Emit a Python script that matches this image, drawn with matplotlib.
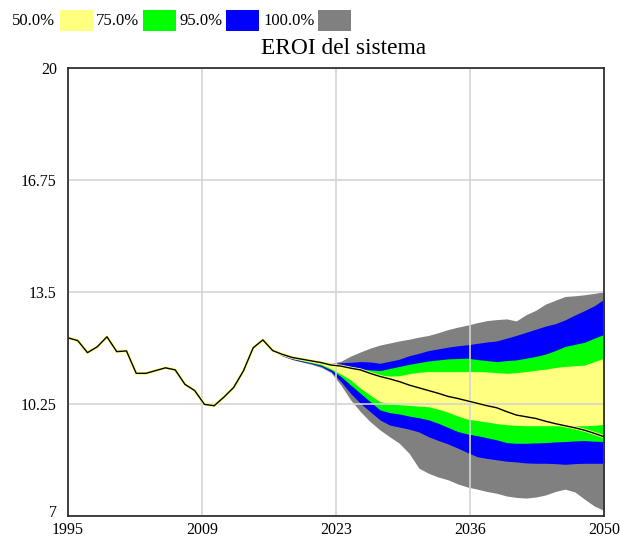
import numpy as np
import matplotlib
matplotlib.use("Agg")
from matplotlib import pyplot as plt
from matplotlib.patches import Rectangle
from matplotlib.transforms import ScaledTranslation

plt.rcParams['font.family'] = ['Liberation Serif', 'DejaVu Serif']

# EROI median run, 1995-2050
years = np.arange(1995, 2051)
eroi = [12.17, 12.09, 11.74, 11.91, 12.20, 11.77, 11.79, 11.14, 11.14, 11.22,
        11.30, 11.24, 10.82, 10.64, 10.24, 10.20, 10.45, 10.73, 11.21, 11.88,
        12.11, 11.80, 11.69, 11.60, 11.55, 11.50, 11.45, 11.38, 11.35, 11.29,
        11.24, 11.14, 11.05, 10.98, 10.90, 10.80, 10.72, 10.64, 10.56, 10.47,
        10.41, 10.34, 10.27, 10.20, 10.14, 10.03, 9.93, 9.88, 9.83, 9.75,
        9.68, 9.62, 9.56, 9.49, 9.40, 9.30]

# sensitivity bands, 2016-2050
band_years = np.arange(2016, 2051)
gray_hi = [11.80, 11.69, 11.60, 11.55, 11.51, 11.48, 11.43, 11.49, 11.64, 11.76,
           11.87, 11.96, 12.02, 12.08, 12.13, 12.19, 12.24, 12.32, 12.41, 12.48,
           12.54, 12.61, 12.67, 12.70, 12.72, 12.66, 12.84, 12.97, 13.15, 13.26,
           13.37, 13.39, 13.42, 13.46, 13.51]
blue_hi = [11.80, 11.69, 11.60, 11.55, 11.50, 11.46, 11.41, 11.45, 11.46, 11.48,
           11.47, 11.43, 11.49, 11.55, 11.65, 11.72, 11.80, 11.85, 11.90, 11.94,
           11.97, 12.01, 12.05, 12.08, 12.16, 12.24, 12.33, 12.42, 12.51, 12.58,
           12.69, 12.83, 12.96, 13.10, 13.29]
green_hi = [11.80, 11.69, 11.60, 11.55, 11.50, 11.45, 11.39, 11.37, 11.32, 11.27,
            11.24, 11.22, 11.28, 11.34, 11.40, 11.45, 11.50, 11.53, 11.56, 11.57,
            11.58, 11.54, 11.51, 11.48, 11.51, 11.53, 11.58, 11.63, 11.70, 11.80,
            11.92, 11.98, 12.04, 12.16, 12.27]
yellow_hi = [11.80, 11.69, 11.60, 11.55, 11.50, 11.45, 11.38, 11.35, 11.28, 11.22,
             11.14, 11.09, 11.06, 11.07, 11.13, 11.17, 11.19, 11.19, 11.19, 11.19,
             11.19, 11.19, 11.18, 11.16, 11.14, 11.16, 11.19, 11.23, 11.26, 11.31,
             11.34, 11.36, 11.38, 11.48, 11.58]
yellow_lo = [11.80, 11.68, 11.58, 11.52, 11.46, 11.40, 11.27, 11.12, 10.95, 10.71,
             10.51, 10.32, 10.26, 10.23, 10.21, 10.19, 10.17, 10.10, 10.01, 9.90,
             9.81, 9.77, 9.73, 9.68, 9.65, 9.63, 9.62, 9.62, 9.62, 9.62,
             9.62, 9.62, 9.62, 9.63, 9.66]
green_lo = [11.80, 11.67, 11.57, 11.50, 11.44, 11.37, 11.24, 11.05, 10.80, 10.56,
            10.32, 10.08, 10.00, 9.96, 9.90, 9.85, 9.79, 9.69, 9.57, 9.45,
            9.38, 9.33, 9.27, 9.21, 9.13, 9.11, 9.11, 9.12, 9.13, 9.15,
            9.16, 9.18, 9.19, 9.17, 9.16]
blue_lo = [11.80, 11.65, 11.55, 11.48, 11.42, 11.34, 11.19, 10.90, 10.56, 10.27,
           10.03, 9.79, 9.64, 9.58, 9.52, 9.44, 9.30, 9.19, 9.09, 8.97,
           8.84, 8.72, 8.67, 8.63, 8.59, 8.57, 8.54, 8.53, 8.53, 8.52,
           8.50, 8.52, 8.53, 8.53, 8.53]
gray_lo = [11.80, 11.64, 11.54, 11.47, 11.40, 11.31, 11.16, 10.80, 10.37, 10.03,
           9.74, 9.50, 9.30, 9.11, 8.82, 8.39, 8.24, 8.13, 8.05, 7.93,
           7.84, 7.78, 7.71, 7.66, 7.58, 7.54, 7.52, 7.55, 7.61, 7.71,
           7.78, 7.70, 7.49, 7.29, 7.16]

labels = ['50.0%', '75.0%', '95.0%', '100.0%']
colors = ['#ffff80', '#00ff00', '#0000ff', '#808080']

xtick_pos = [1995, 2008.75, 2022.5, 2036.25, 2050]
xtick_lab = ['1995', '2009', '2023', '2036', '2050']
ytick_pos = [7, 10.25, 13.5, 16.75, 20]
ytick_lab = ['7', '10.25', '13.5', '16.75', '20']

fig = plt.figure(figsize=(6.2, 5.4), dpi=100)
ax = fig.add_axes([68 / 620, 24 / 540, 536 / 620, 448 / 540])

# widest band first so the narrower ones sit on top
bands = [(gray_lo, gray_hi, colors[3]), (blue_lo, blue_hi, colors[2]),
         (green_lo, green_hi, colors[1]), (yellow_lo, yellow_hi, colors[0])]
for lo, hi, c in bands:
    ax.fill_between(band_years, lo, hi, color=c, lw=0, zorder=1)

ax.plot(years, eroi, color='#ffff80', lw=2.2, zorder=3)
ax.plot(years, eroi, color='black', lw=1.0, zorder=4)

ax.set_xlim(1995, 2050)
ax.set_ylim(7, 20)
ax.set_xticks(xtick_pos)
ax.set_xticklabels(xtick_lab)
ax.set_yticks(ytick_pos)
ax.set_yticklabels(ytick_lab)
ax.tick_params(length=0, labelsize=11.5)
ax.tick_params(axis='x', pad=4)
ax.tick_params(axis='y', pad=8)
ax.set_axisbelow(False)
ax.grid(True, color='#d4d4d4', lw=1.2, zorder=2)
for s in ax.spines.values():
    s.set_color('#222222')
    s.set_linewidth(1.2)
    s.set_zorder(5)

# lift the bottom y label clear of the first year label
lbl7 = ax.get_yticklabels()[0]
lbl7.set_transform(lbl7.get_transform() + ScaledTranslation(0, 5 / 100, fig.dpi_scale_trans))

fig.text(344 / 620, 1 - 48 / 540, 'EROI del sistema', ha='center', va='center',
         fontsize=16.8)

# legend row along the top edge
text_x = [12, 96, 179, 263]
box_x = [60, 143, 226, 318]
for lab, c, tx, bx in zip(labels, colors, text_x, box_x):
    fig.text(tx / 620, 1 - 21 / 540, lab, ha='left', va='center', fontsize=12)
    fig.patches.append(Rectangle((bx / 620, 1 - 31 / 540), 33 / 620, 21 / 540,
                                 transform=fig.transFigure, facecolor=c,
                                 edgecolor='none'))

plt.savefig('out.png', dpi=100)
